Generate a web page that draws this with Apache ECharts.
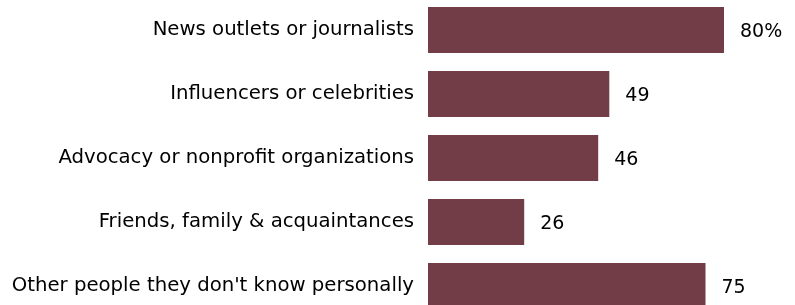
<!DOCTYPE html>
<html>
<head>
<meta charset="utf-8">
<script src="https://cdn.jsdelivr.net/npm/echarts@6/dist/echarts.min.js"></script>
<style>
html,body{margin:0;padding:0;background:#fff;}
#chart{width:795px;height:305px;}
</style>
</head>
<body>
<div id="chart"></div>
<script>
// 类别和数值
var categories = ["News outlets or journalists","Influencers or celebrities","Advocacy or nonprofit organizations",
	"Friends, family & acquaintances","Other people they don't know personally"];
var values = [80,49,46,26,75];

var chart = echarts.init(document.getElementById('chart'));
chart.setOption({
	animation:false,
	grid:{left:428, top:-2, width:370, height:320, outerBoundsMode:'none', containLabel:false},
	xAxis:{type:'value', min:0, max:100, show:false},
	yAxis:{
		type:'category', data:categories, inverse:true,
		axisLine:{show:false}, axisTick:{show:false},
		axisLabel:{margin:14, fontSize:19.7, color:'#000', fontFamily:'DejaVu Sans'}
	},
	series:[{
		type:'bar', data:values, barWidth:46,
		itemStyle:{color:'#733d48'},
		label:{
			show:true, position:'right', distance:16, fontSize:19, color:'#000', fontFamily:'DejaVu Sans',
			offset:[0,2],
			formatter:function(p){ return p.dataIndex===0 ? p.value+'%' : p.value; }
		}
	}]
});
</script>
</body>
</html>
